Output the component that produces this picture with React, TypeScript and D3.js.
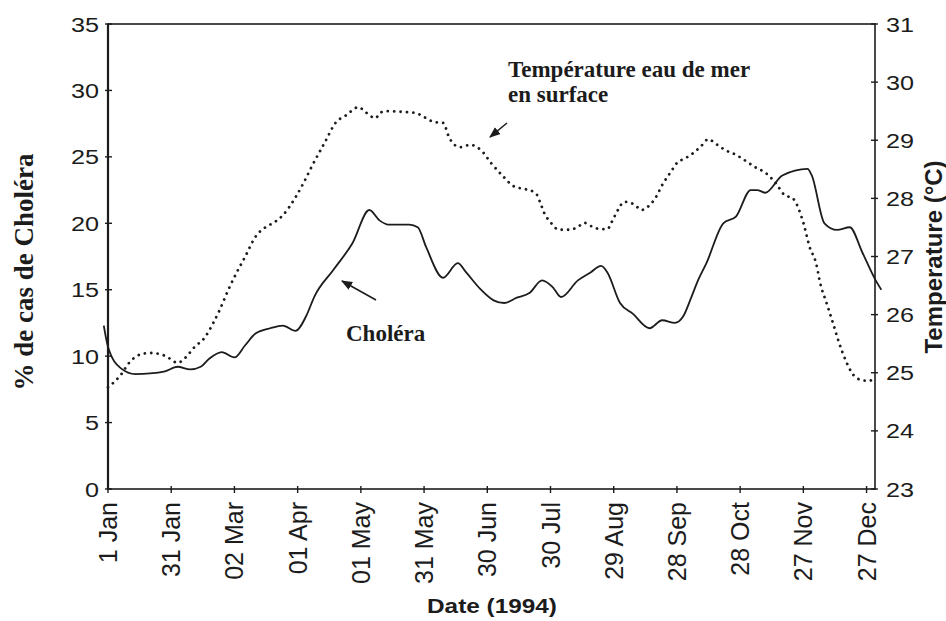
import React from "react"
import { scaleLinear, line, curveMonotoneX } from "d3"

// day of year (0 = 1 Jan 1994) and % of cholera cases
const choleraDays = [-2, 0, 6, 13, 20, 27, 33, 39, 44, 48, 54, 60, 65, 70, 77, 83, 89, 94, 98, 107, 116, 124, 129, 133, 143, 147, 151, 159, 166, 170, 177, 183, 188, 194, 200, 206, 211, 215, 223, 229, 234, 237, 243, 249, 257, 263, 269, 273, 277, 280, 284, 292, 298, 305, 308, 312, 320, 332, 334, 340, 346, 352, 358, 364, 367]
const choleraPct = [12.3, 10.7, 9.1, 8.65, 8.7, 8.85, 9.2, 9.0, 9.2, 9.8, 10.3, 9.9, 10.8, 11.7, 12.1, 12.3, 11.9, 13.0, 14.5, 16.5, 18.5, 21.0, 20.2, 19.9, 19.9, 19.7, 18.2, 15.9, 17.0, 16.3, 15.0, 14.2, 14.0, 14.4, 14.75, 15.7, 15.2, 14.45, 15.7, 16.3, 16.8, 16.3, 14.0, 13.2, 12.1, 12.7, 12.5, 13.0, 14.5, 15.7, 17.0, 20.0, 20.5, 22.5, 22.5, 22.3, 23.6, 24.1, 23.6, 20.0, 19.5, 19.7, 17.8, 15.8, 15.0]

// sea surface temperature (°C)
const tempDays = [0, 6, 10, 15, 20, 25, 29, 33, 37, 41, 46, 50, 53, 57, 61, 65, 70, 75, 79, 83, 89, 93, 97, 103, 108, 113, 119, 122, 127, 129, 132, 139, 146, 150, 155, 159, 162, 167, 172, 177, 182, 187, 193, 198, 203, 205, 207, 210, 214, 219, 223, 226, 230, 234, 237, 239, 242, 245, 250, 253, 256, 260, 263, 267, 270, 274, 277, 281, 285, 288, 293, 298, 302, 307, 312, 317, 321, 325, 330, 333, 336, 338, 341, 344, 347, 350, 353, 357, 361, 364]
const tempC = [24.75, 24.96, 25.17, 25.31, 25.34, 25.32, 25.25, 25.17, 25.27, 25.44, 25.61, 25.86, 26.08, 26.42, 26.72, 26.99, 27.34, 27.51, 27.59, 27.71, 28.02, 28.28, 28.57, 28.97, 29.3, 29.43, 29.57, 29.49, 29.38, 29.47, 29.5, 29.49, 29.47, 29.4, 29.31, 29.3, 29.04, 28.88, 28.92, 28.83, 28.6, 28.4, 28.2, 28.16, 28.09, 27.94, 27.75, 27.59, 27.46, 27.46, 27.51, 27.58, 27.51, 27.47, 27.47, 27.59, 27.8, 27.94, 27.89, 27.8, 27.85, 28.02, 28.23, 28.45, 28.61, 28.69, 28.76, 28.88, 29.02, 28.95, 28.83, 28.75, 28.66, 28.54, 28.44, 28.26, 28.06, 28.0, 27.58, 27.16, 26.89, 26.54, 26.2, 25.86, 25.51, 25.22, 25.0, 24.88, 24.86, 24.91]

const xTickDays = [0, 30, 60, 90, 120, 150, 180, 210, 240, 270, 300, 330, 360]
const xTickLabels = ["1 Jan", "31 Jan", "02 Mar", "01 Apr", "01 May", "31 May", "30 Jun", "30 Jul", "29 Aug", "28 Sep", "28 Oct", "27 Nov", "27 Dec"]
const leftTicks = [0, 5, 10, 15, 20, 25, 30, 35]
const rightTicks = [23, 24, 25, 26, 27, 28, 29, 30, 31]

const ink = "#1c1c1c"
const sans = "'Liberation Sans', Arial, sans-serif"
const serif = "'Liberation Serif', 'Times New Roman', serif"

export default function App() {
  const left = 108
  const right = 875
  const top = 24
  const bottom = 489

  const x = scaleLinear().domain([0, 364]).range([left, right])
  const yL = scaleLinear().domain([0, 35]).range([bottom, top])
  const yR = scaleLinear().domain([23, 31]).range([bottom, top])

  const cholera = choleraDays.map((d, i) => [d, choleraPct[i]] as [number, number])
  const temp = tempDays.map((d, i) => [d, tempC[i]] as [number, number])

  const choleraLine = line<[number, number]>()
    .x(d => x(d[0]))
    .y(d => yL(d[1]))
    .curve(curveMonotoneX)
  const tempLine = line<[number, number]>()
    .x(d => x(d[0]))
    .y(d => yR(d[1]))
    .curve(curveMonotoneX)

  return (
    <svg
      width={946}
      height={621}
      style={{ position: "absolute", left: 0, top: 0, background: "#fff" }}
    >
      <defs>
        <marker id="head" viewBox="0 0 10 10" refX="9" refY="5" markerWidth="7" markerHeight="7" orient="auto">
          <path d="M0,1 L10,5 L0,9 z" fill={ink} />
        </marker>
      </defs>

      {/* frame */}
      <rect x={left} y={top} width={right - left} height={bottom - top} fill="none" stroke={ink} strokeWidth={1.6} />
      <line x1={left} x2={left} y1={top} y2={bottom} stroke={ink} strokeWidth={2.2} />

      {/* left axis */}
      {leftTicks.map(t => (
        <g key={"l" + t}>
          <line x1={left - 3} x2={left + 4} y1={yL(t)} y2={yL(t)} stroke={ink} strokeWidth={1.4} />
          <text
            transform={`translate(${left - 9},${yL(t)}) scale(1.2,1)`}
            textAnchor="end"
            dy="0.36em"
            fontFamily={sans}
            fontSize={21}
            fill={ink}
          >
            {t}
          </text>
        </g>
      ))}

      {/* right axis */}
      {rightTicks.map(t => (
        <g key={"r" + t}>
          <line x1={right - 4} x2={right + 3} y1={yR(t)} y2={yR(t)} stroke={ink} strokeWidth={1.4} />
          <text
            transform={`translate(${right + 11},${yR(t)}) scale(1.2,1)`}
            textAnchor="start"
            dy="0.36em"
            fontFamily={sans}
            fontSize={21}
            fill={ink}
          >
            {t}
          </text>
        </g>
      ))}

      {/* bottom axis */}
      {xTickDays.map((d, i) => (
        <g key={"x" + d}>
          <line x1={x(d)} x2={x(d)} y1={bottom - 3} y2={bottom + 4} stroke={ink} strokeWidth={1.4} />
          <text
            transform={`translate(${x(d)},${bottom + 13}) rotate(-90)`}
            textAnchor="end"
            dy="0.36em"
            fontFamily={sans}
            fontSize={25}
            fill={ink}
          >
            {xTickLabels[i]}
          </text>
        </g>
      ))}

      {/* series */}
      <path d={tempLine(temp) || ""} fill="none" stroke={ink} strokeWidth={2.8} strokeDasharray="0.01 6.4" strokeLinecap="round" />
      <path d={choleraLine(cholera) || ""} fill="none" stroke={ink} strokeWidth={1.8} />

      {/* annotations */}
      <text x={508} y={77} fontFamily={serif} fontWeight="bold" fontSize={23} fill={ink}>
        Température eau de mer
      </text>
      <text x={508} y={102} fontFamily={serif} fontWeight="bold" fontSize={23} fill={ink}>
        en surface
      </text>
      <line x1={507} y1={123} x2={490} y2={137} stroke={ink} strokeWidth={1.6} markerEnd="url(#head)" />

      <text x={346} y={341} fontFamily={serif} fontWeight="bold" fontSize={23} fill={ink}>
        Choléra
      </text>
      <line x1={376} y1={300} x2={342} y2={281} stroke={ink} strokeWidth={1.6} markerEnd="url(#head)" />

      {/* axis titles */}
      <text
        transform="translate(33,272) rotate(-90)"
        textAnchor="middle"
        fontFamily={serif}
        fontWeight="bold"
        fontSize={27}
        fill={ink}
      >
        % de cas de Choléra
      </text>
      <text
        transform="translate(942,257) rotate(-90)"
        textAnchor="middle"
        fontFamily={sans}
        fontWeight="bold"
        fontSize={24}
        fill={ink}
      >
        Temperature (°C)
      </text>
      <text
        transform="translate(492,613) scale(1.16,1)"
        textAnchor="middle"
        fontFamily={sans}
        fontWeight="bold"
        fontSize={21}
        fill={ink}
      >
        Date (1994)
      </text>
    </svg>
  )
}
